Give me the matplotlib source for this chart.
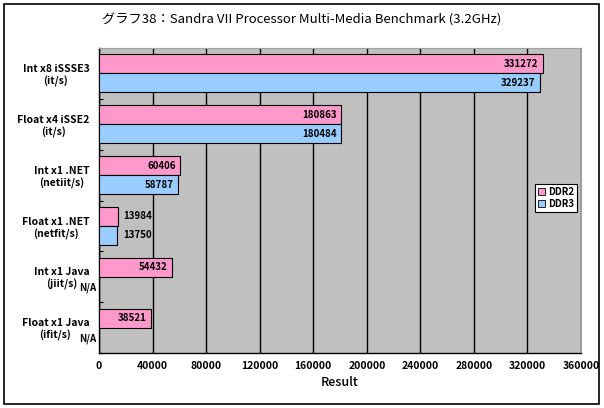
import matplotlib
matplotlib.use("Agg")
import matplotlib.pyplot as plt
import numpy as np
from matplotlib.patches import Rectangle

plt.rcParams['font.family'] = ['Noto Sans CJK JP', 'DejaVu Sans']

categories = ["Int x8 iSSSE3\n(it/s)", "Float x4 iSSE2\n(it/s)", "Int x1 .NET\n(netiit/s)",
              "Float x1 .NET\n(netfit/s)", "Int x1 Java\n(jiit/s)", "Float x1 Java\n(ifit/s)"]
ddr2 = [331272, 180863, 60406, 13984, 54432, 38521]
ddr3 = [329237, 180484, 58787, 13750, None, None]
xticks = [0, 40000, 80000, 120000, 160000, 200000, 240000, 280000, 320000, 360000]
title = "グラフ38：Sandra VII Processor Multi-Media Benchmark (3.2GHz)"

pink = "#FF99CC"
blue = "#99CCFF"

fig = plt.figure(figsize=(6.04, 4.08), dpi=100)
fig.patches.append(Rectangle((4/604, 4/408), 595/604, 400/408, transform=fig.transFigure,
                             fill=False, edgecolor='black', linewidth=1.2))
ax = fig.add_axes([99/604, 1-353/408, 482/604, 305/408])
ax.set_facecolor("#C0C0C0")

y = np.arange(len(categories))
h = 0.375

def label(val, yy):
    if val > 30000:
        ax.annotate(str(val), (val, yy), xytext=(-3, 0), textcoords='offset points',
                    ha='right', va='center', fontsize=7, fontweight='bold', zorder=4)
    else:
        ax.annotate(str(val), (val, yy), xytext=(4, 0), textcoords='offset points',
                    ha='left', va='center', fontsize=7, fontweight='bold', zorder=4)

for i, (a, b) in enumerate(zip(ddr2, ddr3)):
    ax.barh(i - h/2, a, height=h, color=pink, edgecolor='black', linewidth=0.8, zorder=3)
    label(a, i - h/2)
    if b is None:
        ax.annotate("N/A", (0, i + h/2), xytext=(-2, -1), textcoords='offset points',
                    ha='right', va='center', fontsize=7, fontweight='bold', zorder=4,
                    annotation_clip=False)
    else:
        ax.barh(i + h/2, b, height=h, color=blue, edgecolor='black', linewidth=0.8, zorder=3)
        label(b, i + h/2)

ax.set_xlim(0, 360000)
ax.set_ylim(len(categories) - 0.5, -0.5)
ax.set_xticks(xticks)
ax.set_xticklabels([str(t) for t in xticks], fontsize=7.5, fontweight='bold')
ax.tick_params(axis='x', length=0, pad=6)
ax.xaxis.grid(True, color='black', linewidth=1.0, zorder=1)
ax.set_axisbelow(True)

ax.set_yticks(y)
ax.set_yticklabels(categories, fontsize=7.5, fontweight='bold', multialignment='center')
ax.tick_params(axis='y', which='major', length=0, pad=7)
ax.set_yticks(np.arange(-0.5, len(categories)), minor=True)
ax.tick_params(axis='y', which='minor', direction='in', length=3, width=0.8)

ax.set_xlabel("Result", fontsize=9, fontweight='medium', labelpad=3)

for s in ['left', 'bottom']:
    ax.spines[s].set_color('black')
    ax.spines[s].set_linewidth(1.0)
for s in ['top', 'right']:
    ax.spines[s].set_color('#A0A0A0')
    ax.spines[s].set_linewidth(0.8)

fig.text(0.5, 1-20/408, title, ha='center', va='center', fontsize=9.5)

handles = [Rectangle((0, 0), 1, 1, facecolor=pink, edgecolor='black', linewidth=0.6),
           Rectangle((0, 0), 1, 1, facecolor=blue, edgecolor='black', linewidth=0.6)]
leg = ax.legend(handles, ["DDR2", "DDR3"], loc='upper left', bbox_to_anchor=(0.905, 0.553),
                prop={'size': 7, 'weight': 'bold'}, fancybox=False, framealpha=1,
                edgecolor='black', handlelength=0.7, handleheight=0.7, handletextpad=0.3,
                borderpad=0.3, labelspacing=0.2, borderaxespad=0)
leg.get_frame().set_linewidth(0.8)

fig.savefig("out.png", dpi=100)
